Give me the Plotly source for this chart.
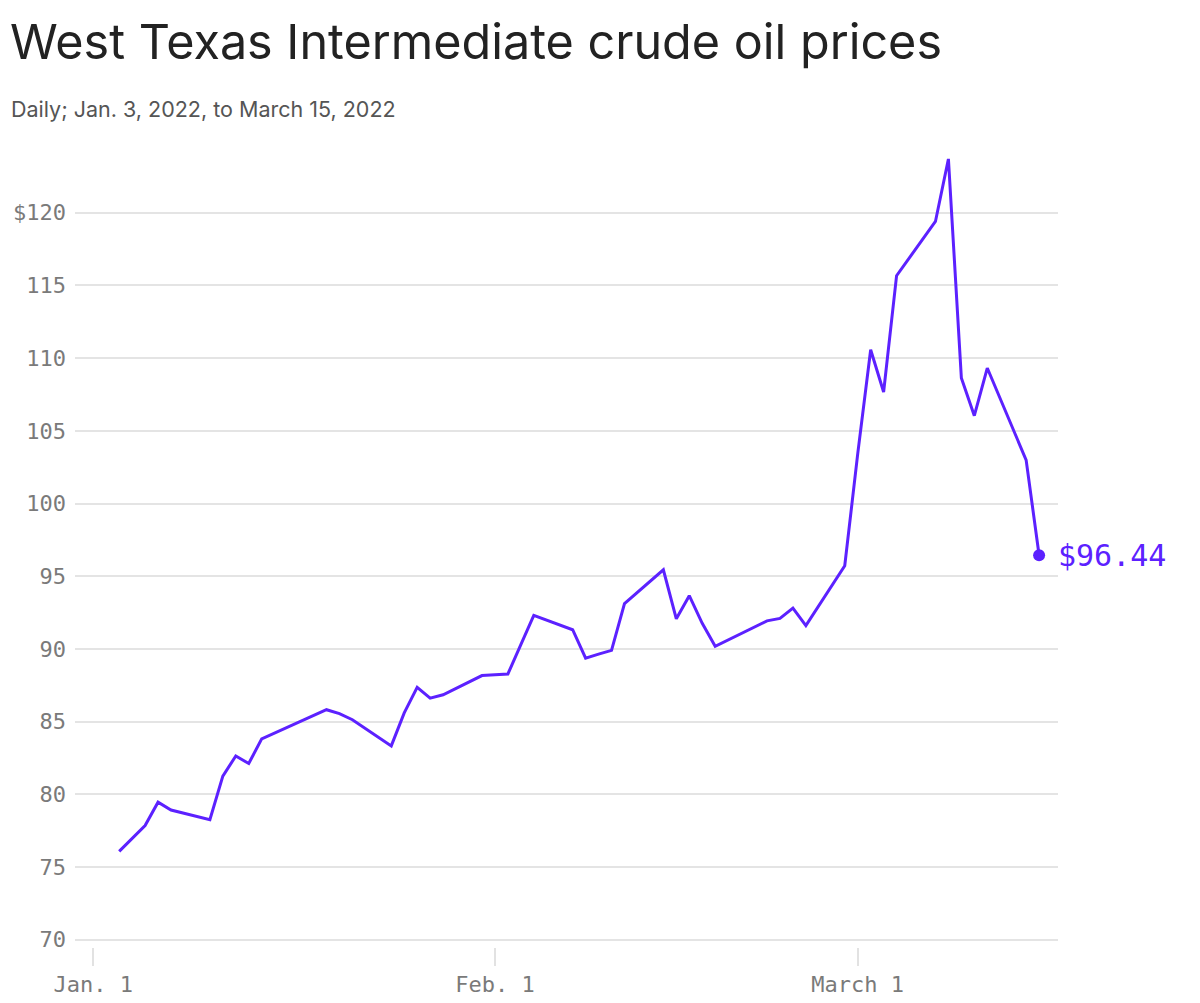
import plotly.graph_objects as go

# WTI daily close, Jan. 3 to March 15, 2022
dates = [
    "2022-01-03", "2022-01-04", "2022-01-05", "2022-01-06", "2022-01-07",
    "2022-01-10", "2022-01-11", "2022-01-12", "2022-01-13", "2022-01-14",
    "2022-01-18", "2022-01-19", "2022-01-20", "2022-01-21",
    "2022-01-24", "2022-01-25", "2022-01-26", "2022-01-27", "2022-01-28",
    "2022-01-31", "2022-02-01", "2022-02-02", "2022-02-03", "2022-02-04",
    "2022-02-07", "2022-02-08", "2022-02-09", "2022-02-10", "2022-02-11",
    "2022-02-14", "2022-02-15", "2022-02-16", "2022-02-17", "2022-02-18",
    "2022-02-22", "2022-02-23", "2022-02-24", "2022-02-25",
    "2022-02-28", "2022-03-01", "2022-03-02", "2022-03-03", "2022-03-04",
    "2022-03-07", "2022-03-08", "2022-03-09", "2022-03-10", "2022-03-11",
    "2022-03-14", "2022-03-15",
]
prices = [
    76.08, 76.99, 77.85, 79.46, 78.92,
    78.25, 81.25, 82.64, 82.12, 83.82,
    85.42, 85.82, 85.55, 85.13,
    83.33, 85.60, 87.36, 86.62, 86.85,
    88.17, 88.22, 88.28, 90.29, 92.31,
    91.32, 89.37, 89.64, 89.90, 93.12,
    95.44, 92.07, 93.66, 91.76, 90.18,
    91.93, 92.10, 92.81, 91.60,
    95.72, 103.41, 110.58, 107.67, 115.67,
    119.40, 123.70, 108.64, 106.04, 109.32,
    102.99, 96.44,
]

y_ticks = [70, 75, 80, 85, 90, 95, 100, 105, 110, 115, 120]
y_labels = ["70", "75", "80", "85", "90", "95", "100", "105", "110", "115", "$120"]
x_ticks = ["2022-01-01", "2022-02-01", "2022-03-01"]
x_labels = ["Jan. 1", "Feb. 1", "March 1"]

PURPLE = "#5c21ff"
MONO = "DejaVu Sans Mono"
GREY = "#7a7a7a"

# page has an 8px body margin, so the figure sits 8px in from the corner
W, H = 1184, 995
L, R, T, B = 67, 134, 132, 56
px_per_unit = 14.54
plot_h = H - T - B
y_min = 69.5  # a little below 70 so the 70 gridline is drawn

fig = go.Figure()

fig.add_trace(go.Scatter(
    x=dates, y=prices,
    mode="lines",
    line=dict(color=PURPLE, width=3),
    hoverinfo="skip",
    showlegend=False,
))

# end point dot + value label
fig.add_trace(go.Scatter(
    x=[dates[-1]], y=[prices[-1]],
    mode="markers",
    marker=dict(color=PURPLE, size=12),
    hoverinfo="skip",
    showlegend=False,
))
fig.add_annotation(
    x=dates[-1], y=prices[-1],
    text=f"${prices[-1]:.2f}",
    showarrow=False, xanchor="left", xshift=17,
    font=dict(family=MONO, size=30, color=PURPLE),
)

fig.add_annotation(
    xref="paper", yref="paper",
    x=(1 - L) / (W - L - R), y=1 + (T - 101) / plot_h,
    xanchor="left", yanchor="middle",
    text="Daily; Jan. 3, 2022, to March 15, 2022",
    showarrow=False,
    font=dict(family="Inter", size=21.5, color="#555555"),
)

fig.update_layout(
    width=W, height=H,
    margin=dict(l=L, r=R, t=T, b=B),
    paper_bgcolor="white",
    plot_bgcolor="white",
    title=dict(
        text="West Texas Intermediate crude oil prices",
        xref="container", yref="container",
        x=2 / W, y=1 - 34 / H,
        xanchor="left", yanchor="middle",
        font=dict(family="Inter", size=48.5, color="#222222"),
    ),
    xaxis=dict(
        type="date",
        range=["2021-12-30 14:10", "2022-03-16 11:00"],
        tickvals=x_ticks, ticktext=x_labels,
        showgrid=False, zeroline=False, showline=False,
        ticks="outside", ticklen=18, tickwidth=1.5, tickcolor="#e2e2e2",
        tickfont=dict(family=MONO, size=22, color=GREY),
        automargin=False,
    ),
    yaxis=dict(
        range=[y_min, y_min + plot_h / px_per_unit],
        tickvals=y_ticks, ticktext=y_labels,
        showgrid=True, gridcolor="#e4e4e4", gridwidth=1.5,
        zeroline=False, showline=False, ticks="",
        ticklabelstandoff=8,
        tickfont=dict(family=MONO, size=22, color=GREY),
        automargin=False,
    ),
)

fig.write_html("out.html")
